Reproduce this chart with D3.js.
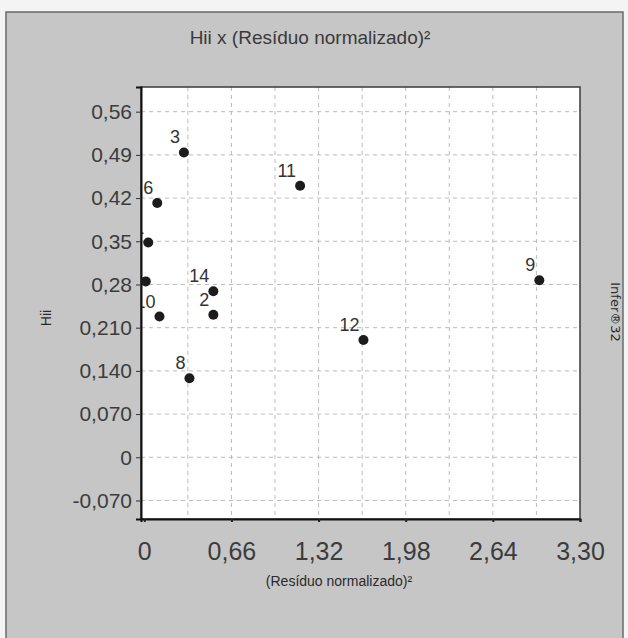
<!DOCTYPE html>
<html><head><meta charset="utf-8">
<script src="https://cdn.jsdelivr.net/npm/d3@7"></script>
<style>html,body{margin:0;padding:0;background:#fff;}svg{display:block;}</style>
</head><body>
<script>
// ---- data ----
const pointLabels = ["1","2","3","4","6","8","9","10","11","12","14"];
const residSq =     [0.030,0.523,0.300,0.011,0.098,0.342,2.992,0.115,1.180,1.660,0.523];
const hii =         [0.348,0.231,0.494,0.285,0.412,0.128,0.287,0.228,0.440,0.190,0.269];
const yTickValues = [-0.07,0,0.07,0.14,0.21,0.28,0.35,0.42,0.49,0.56];
const yTickLabels = ["-0,070","0","0,070","0,140","0,210","0,28","0,35","0,42","0,49","0,56"];
const xTickValues = [0,0.66,1.32,1.98,2.64,3.30];
const xTickLabels = ["0","0,66","1,32","1,98","2,64","3,30"];
const xGridValues = [0.33,0.66,0.99,1.32,1.65,1.98,2.31,2.64,2.97];
const titleText = "Hii x (Resíduo normalizado)²";
const xTitle = "(Resíduo normalizado)²";
const yTitle = "Hii";
const sideNote = "Infer®32";

const W = 628, H = 638;
const L = 141, R = 580, T = 87, B = 519;
const font = "Arial, 'Liberation Sans', sans-serif";

const svg = d3.select("body").append("svg").attr("width", W).attr("height", H);

// background panel
svg.append("rect").attr("x",0).attr("y",0).attr("width",W).attr("height",H).attr("fill","#f4f4f4");
svg.append("rect").attr("x",6).attr("y",12).attr("width",617).attr("height",650)
  .attr("fill","#c6c6c6").attr("stroke","#6a6a6a").attr("stroke-width",1.5);

const x = d3.scaleLinear().domain([-0.025, 3.30]).range([L, R]);
const y = d3.scaleLinear().domain([-0.10, 0.60]).range([B, T]);

// plot area
svg.append("rect").attr("x",L).attr("y",T).attr("width",R-L).attr("height",B-T).attr("fill","#ffffff");

// grid
const grid = svg.append("g").attr("stroke","#bcbcbc").attr("stroke-width",1).attr("stroke-dasharray","4,4");
grid.selectAll("line.v").data(xGridValues).enter().append("line")
  .attr("x1",d=>x(d)).attr("x2",d=>x(d)).attr("y1",T).attr("y2",B);
grid.selectAll("line.h").data(yTickValues).enter().append("line")
  .attr("x1",L).attr("x2",R).attr("y1",d=>y(d)).attr("y2",d=>y(d));

// frame
svg.append("rect").attr("x",L).attr("y",T).attr("width",R-L).attr("height",B-T)
  .attr("fill","none").attr("stroke","#3a3a3a").attr("stroke-width",1.5);

// axes
const yAxis = d3.axisLeft(y).tickValues(yTickValues).tickSize(5).tickPadding(4)
  .tickFormat((d,i)=>yTickLabels[i]);
const gy = svg.append("g").attr("transform",`translate(${L},0)`).call(yAxis);
gy.select(".domain").attr("stroke","#111").attr("stroke-width",2);
gy.selectAll(".tick line").attr("stroke","#333");
gy.selectAll(".tick text").attr("font-family",font).attr("font-size",21).attr("fill","#3c3c3c");

const xAxis = d3.axisBottom(x).tickValues(xTickValues).tickSize(3).tickPadding(20)
  .tickFormat((d,i)=>xTickLabels[i]);
const gx = svg.append("g").attr("transform",`translate(0,${B})`).call(xAxis);
gx.select(".domain").attr("stroke","#111").attr("stroke-width",2);
gx.selectAll(".tick line").attr("stroke","#222").attr("stroke-width",2);
gx.selectAll(".tick text").attr("font-family",font).attr("font-size",25).attr("fill","#3c3c3c");

// clip for labels
svg.append("clipPath").attr("id","plotclip").append("rect")
  .attr("x",L+1).attr("y",T).attr("width",R-L-1).attr("height",B-T);

const pts = pointLabels.map((lab,i)=>({lab, xv:residSq[i], yv:hii[i]}));
const pg = svg.append("g").attr("clip-path","url(#plotclip)");
pg.selectAll("text.lab").data(pts).enter().append("text")
  .attr("x",d=>x(d.xv)-4).attr("y",d=>y(d.yv)-9)
  .attr("text-anchor","end").attr("font-family",font).attr("font-size",18)
  .attr("fill","#333").text(d=>d.lab);
svg.selectAll("circle.pt").data(pts).enter().append("circle")
  .attr("cx",d=>x(d.xv)).attr("cy",d=>y(d.yv)).attr("r",5)
  .attr("fill","#1c1c1c");

// titles
svg.append("text").attr("x",310).attr("y",44).attr("text-anchor","middle")
  .attr("font-family",font).attr("font-size",19).attr("fill","#3a3a3a").text(titleText);
svg.append("text").attr("x",339).attr("y",586).attr("text-anchor","middle")
  .attr("font-family",font).attr("font-size",14).attr("fill","#2a2a2a").text(xTitle);
svg.append("text").attr("transform","translate(51,318) rotate(-90)").attr("text-anchor","middle")
  .attr("font-family",font).attr("font-size",14).attr("fill","#2a2a2a").text(yTitle);
svg.append("text").attr("transform","translate(611,312) rotate(90)").attr("text-anchor","middle")
  .attr("font-family","'DejaVu Sans', sans-serif").attr("font-size",13).attr("fill","#2a2a2a").text(sideNote);
</script>
</body></html>
